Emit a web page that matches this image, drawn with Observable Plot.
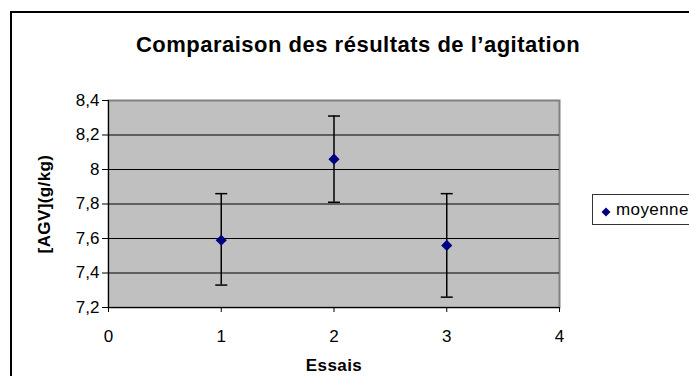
<!DOCTYPE html>
<html><head><meta charset="utf-8">
<script src="https://cdn.jsdelivr.net/npm/d3@7"></script>
<script src="https://cdn.jsdelivr.net/npm/@observablehq/plot@0.6"></script>
<style>
body{margin:0;background:#fff;}
#wrap{position:relative;width:689px;height:376px;overflow:hidden;font-family:"Liberation Sans",Arial,sans-serif;color:#000;background:#fff;}
#border{position:absolute;left:10px;top:11px;width:800px;height:500px;border:2px solid #000;}
#title{position:absolute;left:0;width:716px;top:32px;line-height:26px;text-align:center;font-weight:bold;font-size:22px;letter-spacing:0.5px;}
#ytitle{position:absolute;left:45px;top:204px;transform:translate(-50%,-50%) rotate(-90deg);font-weight:bold;font-size:17px;letter-spacing:0.4px;white-space:nowrap;}
#xtitle{position:absolute;left:334px;top:366px;transform:translate(-50%,-50%);font-weight:bold;font-size:17px;letter-spacing:0.4px;white-space:nowrap;}
#chart{position:absolute;left:0;top:0;}
#legend{position:absolute;left:592px;top:194px;width:130px;height:29px;border:1px solid #333;background:#fff;font-size:17px;}
#legend svg{position:absolute;left:8px;top:12px;}
#legend span{position:absolute;left:23px;top:5px;line-height:20px;letter-spacing:0.4px;}
</style></head>
<body>
<div id="wrap">
  <div id="border"></div>
  <div id="chart"></div>
  <div id="title">Comparaison des résultats de l’agitation</div>
  <div id="ytitle">[AGV](g/kg)</div>
  <div id="xtitle">Essais</div>
  <div id="legend"><svg width="10" height="10" viewBox="-5 -5 10 10"><path d="M0,-4.5L4.5,0L0,4.5L-4.5,0Z" fill="#000080"/></svg><span>moyenne</span></div>
</div>
<script>
// Data
const essais = [1, 2, 3];
const moyenne = [7.59, 8.06, 7.56];
const errLow = [7.33, 7.81, 7.26];
const errHigh = [7.86, 8.31, 7.86];
const xTicks = [0, 1, 2, 3, 4];
const yTicks = [7.2, 7.4, 7.6, 7.8, 8.0, 8.2, 8.4];
const yTickLabels = ["7,2", "7,4", "7,6", "7,8", "8", "8,2", "8,4"];
const gridTicks = [7.4, 7.6, 7.8, 8.0, 8.2];

const data = essais.map((e, i) => ({x: e, y: moyenne[i], lo: errLow[i], hi: errHigh[i]}));

const capSymbol = {
  draw(ctx, size) {
    const r = Math.sqrt(size / Math.PI);
    ctx.moveTo(-r, 0);
    ctx.lineTo(r, 0);
  }
};

const plot = Plot.plot({
  width: 689,
  height: 376,
  marginLeft: 108,
  marginRight: 130,
  marginTop: 100,
  marginBottom: 69,
  x: {domain: [0, 4]},
  y: {domain: [7.2, 8.4]},
  style: {background: "transparent", fontFamily: "'Liberation Sans', Arial, sans-serif", fontSize: "17px", color: "#000"},
  marks: [
    Plot.frame({fill: "#c0c0c0", stroke: "#808080", strokeWidth: 2}),
    Plot.ruleY(gridTicks, {stroke: "#000", strokeWidth: 1}),
    Plot.ruleX([0], {stroke: "#000", strokeWidth: 1}),
    Plot.ruleY([7.2], {stroke: "#000", strokeWidth: 1}),
    Plot.axisY({ticks: yTicks, tickFormat: (d) => yTickLabels[yTicks.indexOf(d)], tickSize: 6, tickPadding: 3, fontSize: 17, label: null, stroke: "#000"}),
    Plot.axisX({ticks: xTicks, tickFormat: (d) => String(d), tickSize: 5, tickPadding: 17, fontSize: 17, label: null, stroke: "#000"}),
    Plot.ruleX(data, {x: "x", y1: "lo", y2: "hi", stroke: "#000", strokeWidth: 1.5}),
    Plot.dot(data, {x: "x", y: "lo", symbol: capSymbol, r: 6, stroke: "#000", strokeWidth: 1.5, fill: "none"}),
    Plot.dot(data, {x: "x", y: "hi", symbol: capSymbol, r: 6, stroke: "#000", strokeWidth: 1.5, fill: "none"}),
    Plot.dot(data, {x: "x", y: "y", symbol: "diamond2", r: 5, fill: "#000080", stroke: "none"})
  ]
});
document.getElementById("chart").appendChild(plot);
</script>
</body></html>
